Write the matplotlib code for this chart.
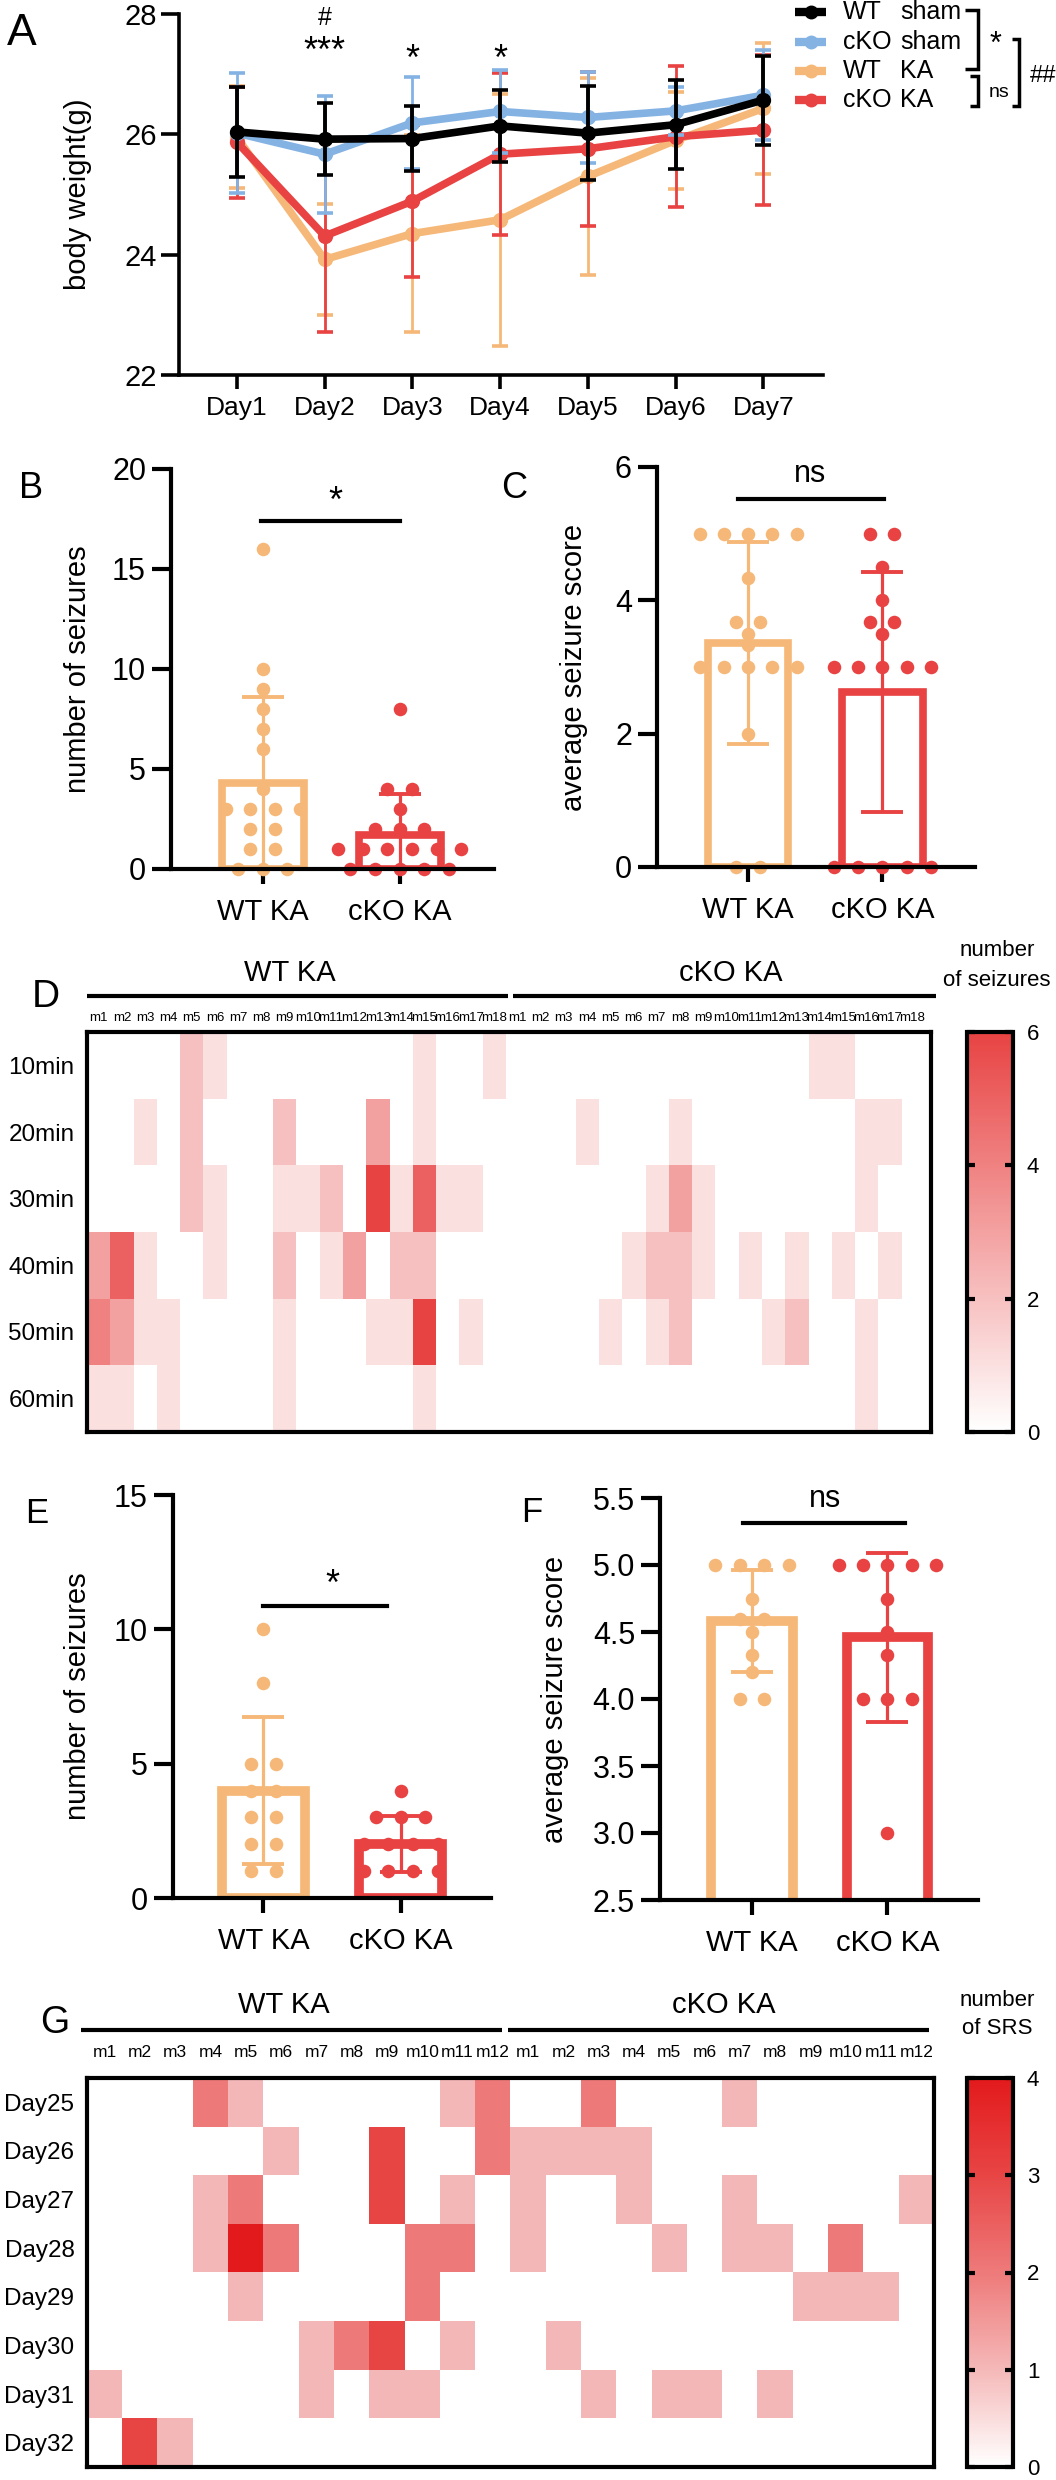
import numpy as np
import matplotlib
matplotlib.use('Agg')
import matplotlib.pyplot as plt
from matplotlib.colors import LinearSegmentedColormap
from matplotlib.lines import Line2D
from matplotlib.transforms import blended_transform_factory

plt.rcParams['font.family'] = ['Liberation Sans', 'DejaVu Sans']
NARROW = ['Liberation Sans Narrow', 'Liberation Sans', 'DejaVu Sans']

# ------------------------------------------------------------------ data
days = ['Day1', 'Day2', 'Day3', 'Day4', 'Day5', 'Day6', 'Day7']
wt_sham_mean = [26.04, 25.92, 25.93, 26.14, 26.02, 26.16, 26.57]
wt_sham_sd = [0.75, 0.60, 0.54, 0.60, 0.78, 0.74, 0.74]
cko_sham_mean = [26.02, 25.67, 26.19, 26.38, 26.28, 26.39, 26.65]
cko_sham_sd = [1.00, 0.97, 0.77, 0.69, 0.76, 0.40, 0.75]
wt_ka_mean = [25.95, 23.92, 24.35, 24.58, 25.30, 25.90, 26.43]
wt_ka_sd = [0.85, 0.93, 1.64, 2.09, 1.64, 0.81, 1.09]
cko_ka_mean = [25.87, 24.31, 24.89, 25.67, 25.76, 25.96, 26.07]
cko_ka_sd = [0.92, 1.60, 1.26, 1.35, 1.28, 1.17, 1.25]

groups = ['WT KA', 'cKO KA']
# B: number of seizures (acute)
b_wt = [16, 10, 9, 8, 7, 6, 4, 3, 3, 3, 3, 2, 2, 1, 1, 0, 0, 0]
b_cko = [8, 4, 4, 3, 2, 2, 2, 1, 1, 1, 1, 1, 1, 0, 0, 0, 0, 0]
b_mean = [4.3, 1.7]
b_sd = [4.3, 2.05]
# C: average seizure score (acute)
c_wt = [5, 5, 5, 5, 5, 4.33, 3.67, 3.67, 3.5, 3.33, 3, 3, 3, 3, 3, 2, 0, 0]
c_cko = [5, 5, 4.5, 4, 3.67, 3.67, 3.5, 3, 3, 3, 3, 3, 0, 0, 0, 0, 0]
c_mean = [3.36, 2.63]
c_sd = [1.51, 1.80]
# E: number of seizures (SRS)
e_wt = [10, 8, 5, 5, 4, 4, 3, 3, 2, 2, 1, 1]
e_cko = [4, 3, 3, 3, 2, 2, 2, 2, 1, 1, 1, 1]
e_mean = [4.0, 2.0]
e_sd = [2.72, 1.05]
# F: average seizure score (SRS)
f_wt = [5, 5, 5, 5, 4.75, 4.6, 4.6, 4.5, 4.33, 4.2, 4, 4]
f_cko = [5, 5, 5, 5, 5, 4.75, 4.5, 4.33, 4, 4, 4, 3]
f_mean = [4.58, 4.46]
f_sd = [0.38, 0.63]

# D heatmap: rows = time bins, columns = mice
d_rows = ['10min', '20min', '30min', '40min', '50min', '60min']
d_mice = ['m%d' % i for i in range(1, 19)]
d_wt = [
    [0, 0, 0, 0, 2, 1, 0, 0, 0, 0, 0, 0, 0, 0, 1, 0, 0, 1],
    [0, 0, 1, 0, 2, 0, 0, 0, 2, 0, 0, 0, 3, 0, 1, 0, 0, 0],
    [0, 0, 0, 0, 2, 1, 0, 0, 1, 1, 2, 0, 6, 1, 5, 1, 1, 0],
    [3, 5, 1, 0, 0, 1, 0, 0, 2, 0, 1, 3, 0, 2, 2, 0, 0, 0],
    [4, 3, 1, 1, 0, 0, 0, 0, 1, 0, 0, 0, 1, 1, 6, 0, 1, 0],
    [1, 1, 0, 1, 0, 0, 0, 0, 1, 0, 0, 0, 0, 0, 1, 0, 0, 0],
]
d_cko = [
    [0, 0, 0, 0, 0, 0, 0, 0, 0, 0, 0, 0, 0, 1, 1, 0, 0, 0],
    [0, 0, 0, 1, 0, 0, 0, 1, 0, 0, 0, 0, 0, 0, 0, 1, 1, 0],
    [0, 0, 0, 0, 0, 0, 1, 3, 1, 0, 0, 0, 0, 0, 0, 1, 0, 0],
    [0, 0, 0, 0, 0, 1, 2, 2, 1, 0, 1, 0, 1, 0, 1, 0, 1, 0],
    [0, 0, 0, 0, 1, 0, 1, 2, 0, 0, 0, 1, 2, 0, 0, 1, 0, 0],
    [0, 0, 0, 0, 0, 0, 0, 0, 0, 0, 0, 0, 0, 0, 0, 1, 0, 0],
]
d_cbar_ticks = [0, 2, 4, 6]

# G heatmap
g_rows = ['Day25', 'Day26', 'Day27', 'Day28', 'Day29', 'Day30', 'Day31', 'Day32']
g_mice = ['m%d' % i for i in range(1, 13)]
g_wt = [
    [0, 0, 0, 2, 1, 0, 0, 0, 0, 0, 1, 2],
    [0, 0, 0, 0, 0, 1, 0, 0, 3, 0, 0, 2],
    [0, 0, 0, 1, 2, 0, 0, 0, 3, 0, 1, 0],
    [0, 0, 0, 1, 4, 2, 0, 0, 0, 2, 2, 0],
    [0, 0, 0, 0, 1, 0, 0, 0, 0, 2, 0, 0],
    [0, 0, 0, 0, 0, 0, 1, 2, 3, 0, 1, 0],
    [1, 0, 0, 0, 0, 0, 1, 0, 1, 1, 0, 0],
    [0, 3, 1, 0, 0, 0, 0, 0, 0, 0, 0, 0],
]
g_cko = [
    [0, 0, 2, 0, 0, 0, 1, 0, 0, 0, 0, 0],
    [1, 1, 1, 1, 0, 0, 0, 0, 0, 0, 0, 0],
    [1, 0, 0, 1, 0, 0, 1, 0, 0, 0, 0, 1],
    [1, 0, 0, 0, 1, 0, 1, 1, 0, 2, 0, 0],
    [0, 0, 0, 0, 0, 0, 0, 0, 1, 1, 1, 0],
    [0, 1, 0, 0, 0, 0, 0, 0, 0, 0, 0, 0],
    [0, 0, 1, 0, 1, 1, 0, 1, 0, 0, 0, 0],
    [0, 0, 0, 0, 0, 0, 0, 0, 0, 0, 0, 0],
]
g_cbar_ticks = [0, 1, 2, 3, 4]

# ------------------------------------------------------------------ style
C_BLACK = '#000000'
C_BLUE = '#84b3e3'
C_ORANGE = '#f6b878'
C_RED = '#e84242'

W, H = 1056, 2480
fig = plt.figure(figsize=(W / 100, H / 100), dpi=100)


def fx(x):
    return x / W


def fy(y):
    return 1 - y / H


def box(l, t, r, b):
    return [l / W, 1 - b / H, (r - l) / W, (b - t) / H]


def fline(xs, ys, lw=2.5, color='black'):
    fig.add_artist(Line2D([fx(v) for v in xs], [fy(v) for v in ys], lw=lw,
                          color=color, transform=fig.transFigure,
                          solid_capstyle='butt', solid_joinstyle='miter'))


def ftext(x, y, s, size, ha='center', va='baseline', **kw):
    fig.text(fx(x), fy(y), s, fontsize=size, ha=ha, va=va, **kw)


# panel letters
ftext(7, 45, 'A', 32, ha='left')
ftext(19, 498, 'B', 26, ha='left')
ftext(501, 498, 'C', 26, ha='left')
ftext(32, 1007, 'D', 28, ha='left')
ftext(25, 1523, 'E', 25, ha='left')
ftext(521, 1522, 'F', 25, ha='left')
ftext(40, 2033, 'G', 27, ha='left')

# ------------------------------------------------------------------ A
axA = fig.add_axes(box(179, 14, 823, 375))
xd = np.arange(len(days))
for mean, sd, col, elw, z in [
        (wt_ka_mean, wt_ka_sd, C_ORANGE, 2.0, 2),
        (cko_ka_mean, cko_ka_sd, C_RED, 2.0, 3),
        (cko_sham_mean, cko_sham_sd, C_BLUE, 2.0, 4),
        (wt_sham_mean, wt_sham_sd, C_BLACK, 2.8, 5)]:
    axA.errorbar(xd, mean, yerr=sd, color=col, lw=5.5, marker='o', ms=10,
                 capsize=6, elinewidth=elw, capthick=2.6, zorder=z)
axA.set_xlim(-0.66, 6.68)
axA.set_ylim(22, 28)
axA.set_yticks([22, 24, 26, 28])
axA.set_xticks(xd)
axA.set_xticklabels(days)
for s in ['top', 'right']:
    axA.spines[s].set_visible(False)
for s in ['left', 'bottom']:
    axA.spines[s].set_linewidth(2.6)
axA.tick_params(axis='y', length=13, width=2.6, labelsize=21, pad=3)
axA.tick_params(axis='x', length=10, width=2.6, labelsize=19, pad=5)
axA.set_ylabel('body weight(g)', fontsize=21)
axA.yaxis.set_label_coords((92 - 179) / 644, 0.5)

tA = blended_transform_factory(axA.transData, fig.transFigure)
axA.text(1, fy(25), '#', fontsize=18, ha='center', va='baseline', transform=tA)
axA.text(1, fy(62), '***', fontsize=26, ha='center', va='baseline', transform=tA)
axA.text(2, fy(70), '*', fontsize=26, ha='center', va='baseline', transform=tA)
axA.text(3, fy(70), '*', fontsize=26, ha='center', va='baseline', transform=tA)

# legend (manual)
leg = [('WT', 'sham', C_BLACK, 12), ('cKO', 'sham', C_BLUE, 42),
       ('WT', 'KA', C_ORANGE, 71), ('cKO', 'KA', C_RED, 100)]
for w1, w2, col, yy in leg:
    fig.add_artist(Line2D([fx(795), fx(826)], [fy(yy), fy(yy)], lw=6, color=col,
                          transform=fig.transFigure, solid_capstyle='butt'))
    fig.add_artist(Line2D([fx(810.5)], [fy(yy)], marker='o', ms=9, color=col,
                          transform=fig.transFigure))
    ftext(843, yy, w1, 18, ha='left', va='center')
    ftext(900, yy, w2, 18, ha='left', va='center')
fline([965, 978, 978, 965], [10, 10, 69, 69])
fline([970, 978, 978, 970], [76, 76, 106, 106])
fline([1012, 1019, 1019, 1012], [39, 39, 106, 106])
ftext(995, 53, '*', 22)
ftext(999, 97, 'ns', 14)
ftext(1043, 82, '##', 17)


# ------------------------------------------------------------------ bar panels
def swarm(vals, center, dx):
    vals = np.asarray(vals, float)
    xs = np.empty_like(vals)
    for v in np.unique(vals):
        idx = np.where(vals == v)[0]
        k = len(idx)
        xs[idx] = center + (np.arange(k) - (k - 1) / 2) * dx
    return xs


def bar_panel(rect, data, means, sds, ylim, yticks, xlim, edge_lw, ylabel,
              label_right, yfmt=None):
    ax = fig.add_axes(rect)
    cols = [C_ORANGE, C_RED]
    for i, (vals, m, s, c) in enumerate(zip(data, means, sds, cols)):
        ax.bar(i, m, width=0.6, facecolor='white', edgecolor=c,
               linewidth=edge_lw, zorder=1)
        ax.errorbar(i, m, yerr=s, color=c, capsize=15, elinewidth=2.3,
                    capthick=2.8, zorder=2)
        ax.scatter(swarm(vals, i, 0.18), vals, s=95, color=c, zorder=3,
                   clip_on=False, linewidths=0)
    ax.set_xlim(*xlim)
    ax.set_ylim(*ylim)
    ax.set_yticks(yticks)
    if yfmt:
        ax.set_yticklabels([yfmt % v for v in yticks])
    ax.set_xticks([0, 1])
    ax.set_xticklabels(groups)
    for s in ['top', 'right']:
        ax.spines[s].set_visible(False)
    for s in ['left', 'bottom']:
        ax.spines[s].set_linewidth(3)
        ax.spines[s].set_zorder(4)
    ax.tick_params(axis='y', length=14, width=3, labelsize=22, pad=4)
    ax.tick_params(axis='x', length=11, width=3, labelsize=21, pad=10)
    ax.set_ylabel(ylabel, fontsize=21)
    pos = rect[0] * W
    ax.yaxis.set_label_coords((label_right - pos) / (rect[2] * W), 0.5)
    return ax


axB = bar_panel(box(171, 469, 494, 869), [b_wt, b_cko], b_mean, b_sd,
                (0, 20), [0, 5, 10, 15, 20], (-0.67, 1.69), 5.5,
                'number of seizures', 92)
axB.plot([-0.01, 1.0], [17.4, 17.4], color='black', lw=3)
tB = blended_transform_factory(axB.transData, fig.transFigure)
axB.text(0.53, fy(512), '*', fontsize=26, ha='center', va='baseline', transform=tB)

axC = bar_panel(box(657, 467, 975, 867), [c_wt, c_cko], c_mean, c_sd,
                (0, 6), [0, 2, 4, 6], (-0.68, 1.69), 5.5,
                'average seizure score', 588)
axC.plot([-0.08, 1.01], [5.52, 5.52], color='black', lw=3)
tC = blended_transform_factory(axC.transData, fig.transFigure)
axC.text(0.46, fy(482), 'ns', fontsize=22, ha='center', va='baseline', transform=tC)

axE = bar_panel(box(173, 1495, 491, 1898), [e_wt, e_cko], e_mean, e_sd,
                (0, 15), [0, 5, 10, 15], (-0.66, 1.66), 7,
                'number of seizures', 92)
axE.plot([0.0, 0.9], [10.87, 10.87], color='black', lw=3)
tE = blended_transform_factory(axE.transData, fig.transFigure)
axE.text(0.5, fy(1595), '*', fontsize=26, ha='center', va='baseline', transform=tE)

axF = bar_panel(box(660, 1498, 978, 1900), [f_wt, f_cko], f_mean, f_sd,
                (2.5, 5.5), [2.5, 3.0, 3.5, 4.0, 4.5, 5.0, 5.5], (-0.68, 1.67), 7,
                'average seizure score', 569, yfmt='%.1f')
axF.plot([-0.07, 1.13], [5.31, 5.31], color='black', lw=3)
tF = blended_transform_factory(axF.transData, fig.transFigure)
axF.text(0.54, fy(1507), 'ns', fontsize=22, ha='center', va='baseline', transform=tF)


# ------------------------------------------------------------------ heatmaps
def heat_panel(rect, cbox, mat, rows, mice, cmap, vmax, cticks, xlim_extra,
               col_fs, col_pad, header_y, line_y, hx, lines, ctitle, ctitle_y):
    ax = fig.add_axes(rect)
    n = mat.shape[1]
    im = ax.imshow(mat, cmap=cmap, vmin=0, vmax=vmax, aspect='auto',
                   interpolation='nearest',
                   extent=(-0.5, n - 0.5, len(rows) - 0.5, -0.5))
    ax.set_xlim(-0.5, n - 0.5 + xlim_extra)
    ax.set_ylim(len(rows) - 0.5, -0.5)
    ax.set_yticks(np.arange(len(rows)))
    ax.set_yticklabels(rows)
    ax.set_xticks(np.arange(n))
    ax.set_xticklabels(mice + mice, fontfamily=NARROW)
    ax.xaxis.tick_top()
    ax.tick_params(axis='y', length=0, labelsize=17.5, pad=9)
    ax.tick_params(axis='x', length=0, labelsize=col_fs, pad=col_pad)
    for s in ax.spines.values():
        s.set_linewidth(3)
    cax = fig.add_axes(cbox)
    cb = fig.colorbar(im, cax=cax, ticks=cticks)
    cb.outline.set_linewidth(3)
    cax.tick_params(direction='in', left=True, right=True, length=6, width=3,
                    labelsize=16, pad=10)
    ftext(hx[0], header_y, 'WT KA', 21, va='center')
    ftext(hx[1], header_y, 'cKO KA', 21, va='center')
    for (a, b) in lines:
        fline([a, b], [line_y, line_y], lw=3)
    ftext(997, ctitle_y[0], 'number', 16, va='center')
    ftext(997, ctitle_y[1], ctitle, 16, va='center')
    return ax


cmap_D = LinearSegmentedColormap.from_list('d', ['#ffffff', '#e84343'])
cmap_G = LinearSegmentedColormap.from_list(
    'g', [(0, '#ffffff'), (0.25, '#f5b8b8'), (0.5, '#ee7a7a'),
          (0.75, '#e84545'), (1.0, '#e31a1c')])

matD = np.hstack([np.array(d_wt), np.array(d_cko)])
heat_panel(box(87, 1032, 931, 1432), box(967, 1032, 1013, 1432), matD,
           d_rows, d_mice, cmap_D, 6, d_cbar_ticks, 0.3, 9.5, 6,
           973, 996, (290, 731), [(87, 508), (513, 936)], 'of seizures',
           (950, 980))

matG = np.hstack([np.array(g_wt), np.array(g_cko)])
heat_panel(box(87, 2078, 934, 2467), box(967, 2078, 1013, 2467), matG,
           g_rows, g_mice, cmap_G, 4, g_cbar_ticks, 0.0, 12.5, 13,
           2005, 2030, (284, 724), [(81, 502), (508, 929)], 'of SRS',
           (2000, 2029))

fig.savefig('out.png', dpi=100)
